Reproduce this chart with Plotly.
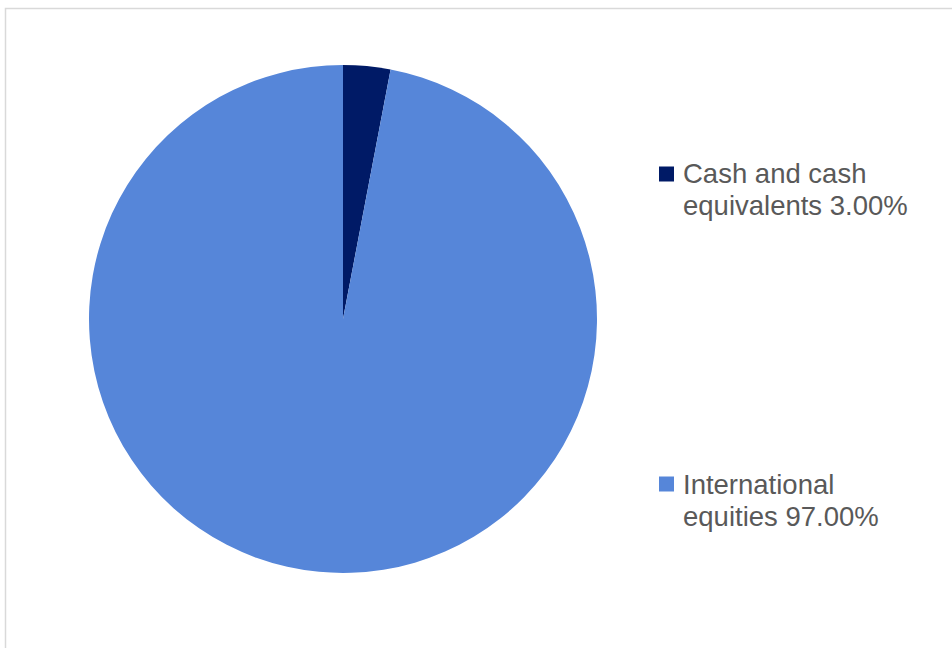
import plotly.graph_objects as go

# Data
labels = ["Cash and cash equivalents", "International equities"]
values = [3.00, 97.00]
legend_lines = [["Cash and cash", "equivalents 3.00%"], ["International", "equities 97.00%"]]
colors = ["#001A66", "#5686D9"]

W, H = 952, 648

def px(x):
    return x / W

def py(y):
    return 1 - y / H

fig = go.Figure()
fig.add_trace(go.Pie(
    labels=labels,
    values=values,
    sort=False,
    direction="clockwise",
    rotation=0,
    textinfo="none",
    marker=dict(colors=colors, line=dict(width=0)),
    domain=dict(x=[px(89), px(597)], y=[py(573), py(65)]),
    showlegend=False,
))

# Legend (text + square markers)
line1_mid_y = [173.5, 484.5]
line_gap = 32
square_mid_y = [174, 484]
for i in range(len(labels)):
    for j, line in enumerate(legend_lines[i]):
        fig.add_annotation(
            x=px(681), y=py(line1_mid_y[i] + j * line_gap), xref="paper", yref="paper",
            xanchor="left", yanchor="middle", align="left",
            text=line, showarrow=False,
            font=dict(family="Liberation Sans, Arial, sans-serif", size=27.5, color="#595959"),
        )
    fig.add_shape(
        type="rect", xref="paper", yref="paper",
        x0=px(659), x1=px(674), y0=py(square_mid_y[i] + 7.5), y1=py(square_mid_y[i] - 7.5),
        fillcolor=colors[i], line=dict(width=0),
    )

# Chart border
fig.add_shape(
    type="rect", xref="paper", yref="paper",
    x0=px(5.5), x1=px(960), y0=py(660), y1=py(8.5),
    line=dict(color="#D9D9D9", width=1.5), fillcolor="rgba(0,0,0,0)",
)

fig.update_layout(
    width=W, height=H,
    margin=dict(l=0, r=0, t=0, b=0),
    paper_bgcolor="white",
    plot_bgcolor="white",
)

fig.write_html(
    "out.html",
    config={"displayModeBar": False},
    post_script="document.body.style.margin='0';document.body.style.overflow='hidden';",
)
